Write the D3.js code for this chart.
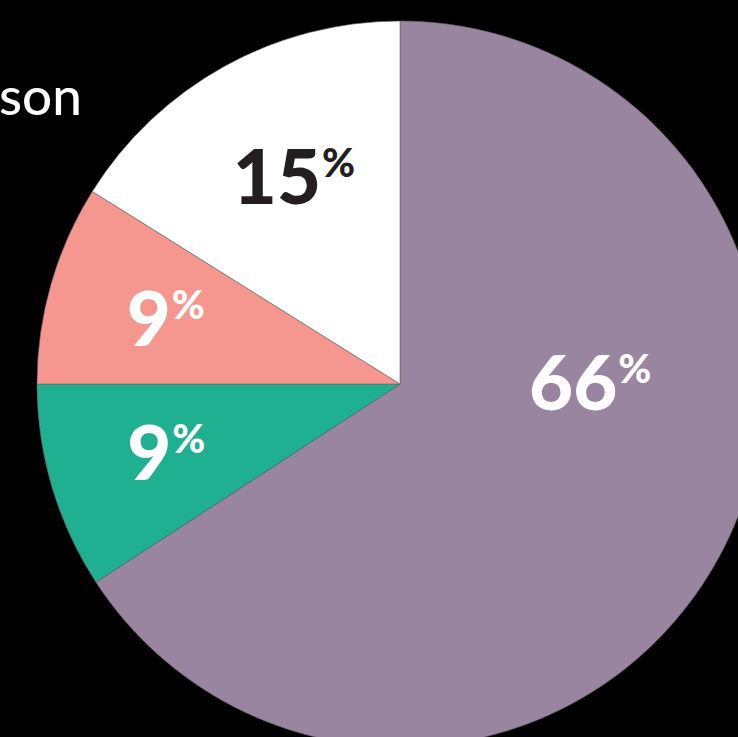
<!DOCTYPE html>
<html lang="en">
<head>
    <meta charset="UTF-8">
    <title>pie</title>
    <script src="https://cdn.jsdelivr.net/npm/d3@7"></script>
    <style>
        body { margin: 0; background: #000; overflow: hidden; }
        text { font-family: "Lato", "DejaVu Sans", sans-serif; }
    </style>
</head>
<body>
<script>
    // slice shares (clockwise from 12 o'clock)
    let categories = ["purple", "green", "salmon", "white"];
    let shares = [65.8, 9.2, 8.9, 16.1];
    let labels = ["66", "9", "9", "15"];
    let colors = ["#9a85a1", "#1fb091", "#f5968f", "#ffffff"];
    let labelColors = ["#ffffff", "#ffffff", "#ffffff", "#231f20"];

    let width = 738, height = 737;
    let cx = 400, cy = 384, radius = 363;

    let svg = d3.select("body").append("svg")
        .attr("width", width)
        .attr("height", height);

    svg.append("rect")
        .attr("width", width)
        .attr("height", height)
        .attr("fill", "#000");

    // cropped title fragment
    svg.append("text")
        .text("son")
        .attr("x", -1)
        .attr("y", 115)
        .attr("fill", "#fff")
        .attr("font-size", "53px")
        .attr("font-weight", 500);

    let data = categories.map(function (c, i) {
        return {name: c, value: shares[i], label: labels[i], color: colors[i], textColor: labelColors[i]};
    });

    let pie = d3.pie()
        .sort(null)
        .value(function (d) { return d.value; });

    let arc = d3.arc()
        .innerRadius(0)
        .outerRadius(radius);

    let g = svg.append("g")
        .attr("transform", "translate(" + cx + "," + cy + ")");

    let arcs = pie(data);

    g.selectAll("path")
        .data(arcs)
        .join("path")
        .attr("d", arc)
        .attr("fill", function (d) { return d.data.color; })
        .attr("stroke", "#666")
        .attr("stroke-width", 0.6);

    // labels sit near the centroid of a wider arc; the big slice is kept on the horizontal
    let labelArc = d3.arc().innerRadius(0).outerRadius(radius * 1.32);

    let txt = g.selectAll("text.lbl")
        .data(arcs)
        .join("text")
        .attr("class", "lbl")
        .attr("text-anchor", "middle")
        .attr("fill", function (d) { return d.data.textColor; })
        .attr("font-weight", 900)
        .attr("transform", function (d) {
            let p = labelArc.centroid(d);
            if (d.index === 0) p = [radius * 0.535, -2];
            if (d.index === 3) p = [p[0] + 14, p[1] + 2];
            return "translate(" + (p[0] - 4) + "," + (p[1] + 28) + ")";
        });

    txt.append("tspan")
        .attr("font-size", "76px")
        .text(function (d) { return d.data.label; });

    txt.append("tspan")
        .attr("font-size", "40px")
        .attr("dx", 1)
        .attr("dy", -27)
        .text("%");
</script>
</body>
</html>
